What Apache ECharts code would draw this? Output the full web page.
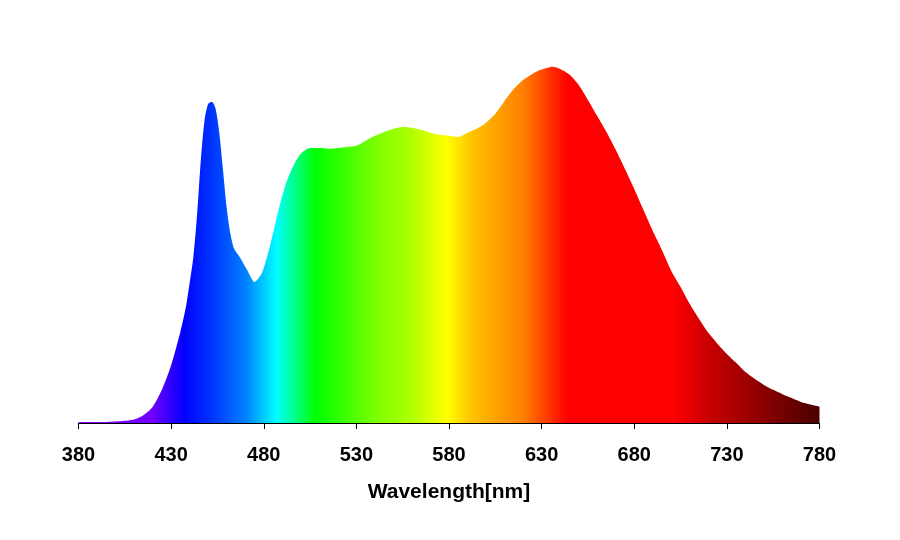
<!DOCTYPE html>
<html>
<head>
<meta charset="utf-8">
<script src="https://cdn.jsdelivr.net/npm/echarts@6/dist/echarts.min.js"></script>
<style>
  html, body { margin: 0; padding: 0; background: #fff; }
  #chart { width: 900px; height: 540px; }
</style>
</head>
<body>
<div id="chart"></div>
<script>
// wavelength (nm) and relative intensity
const wavelengths = [
  380, 385, 390, 395, 400, 405, 410, 415, 420, 425, 430, 435, 438, 440, 442, 444,
  446, 448, 450, 452, 454, 456, 458, 460, 462, 464, 467, 471, 475, 479, 483, 488,
  492, 496, 500, 505, 510, 515, 520, 525, 530, 535, 540, 545, 550, 555, 560, 565,
  570, 575, 580, 585, 590, 595, 600, 605, 610, 615, 620, 625, 630, 636, 640, 645,
  650, 655, 660, 665, 670, 675, 680, 685, 690, 695, 700, 705, 710, 715, 720, 725,
  730, 735, 740, 745, 750, 755, 760, 765, 770, 775, 780
]
const intensity = [
  0.003, 0.003, 0.003, 0.003, 0.004, 0.006, 0.010, 0.022, 0.045, 0.093, 0.162, 0.256, 0.326, 0.393, 0.466, 0.584,
  0.736, 0.848, 0.896, 0.902, 0.882, 0.815, 0.711, 0.604, 0.531, 0.489, 0.466, 0.430, 0.396, 0.421, 0.489, 0.598,
  0.672, 0.722, 0.756, 0.772, 0.772, 0.770, 0.772, 0.775, 0.778, 0.792, 0.806, 0.817, 0.826, 0.831, 0.829, 0.823,
  0.815, 0.809, 0.806, 0.803, 0.815, 0.826, 0.843, 0.868, 0.904, 0.938, 0.963, 0.980, 0.992, 1.000, 0.994, 0.978,
  0.949, 0.907, 0.862, 0.817, 0.767, 0.713, 0.657, 0.598, 0.539, 0.485, 0.427, 0.382, 0.334, 0.292, 0.253, 0.222,
  0.194, 0.169, 0.143, 0.124, 0.107, 0.093, 0.081, 0.070, 0.059, 0.052, 0.046
]
const xTicks = [380, 430, 480, 530, 580, 630, 680, 730, 780]

// spectrum colours by wavelength
const stopWavelengths = [380, 420, 437, 455, 470, 487, 508, 542, 560, 579, 593, 620, 644, 701, 720, 747, 780]
const stopColors = [
  '#8a00ff', '#7000ff', '#0000ff', '#0040ff', '#0080ff', '#00ffff', '#00ff00', '#80ff00', '#b0ff00',
  '#ffff00', '#ffc000', '#ff8000', '#ff0000', '#ff0000', '#c80000', '#900000', '#4a0000'
]

const xMin = xTicks[0]
const xMax = xTicks[xTicks.length - 1]
const colorStops = stopWavelengths.map((w, i) => ({
  offset: (w - xMin) / (xMax - xMin),
  color: stopColors[i]
}))

const chart = echarts.init(document.getElementById('chart'))

chart.setOption({
  animation: false,
  grid: { left: 78.5, right: 80.5, top: 24, bottom: 117 },
  xAxis: {
    type: 'value',
    min: xMin,
    max: xMax,
    interval: 50,
    name: 'Wavelength[nm]',
    nameLocation: 'middle',
    nameGap: 59,
    nameTextStyle: { fontFamily: 'Liberation Sans', fontWeight: 'bold', fontSize: 21, color: '#000' },
    axisLine: { lineStyle: { color: '#000', width: 1 } },
    axisTick: { show: true, length: 6, lineStyle: { color: '#000' } },
    axisLabel: { margin: 22, fontFamily: 'Liberation Sans', fontWeight: 'bold', fontSize: 20, color: '#000' },
    splitLine: { show: false }
  },
  yAxis: {
    type: 'value',
    min: 0,
    max: 1.12,
    show: false
  },
  series: [
    {
      type: 'line',
      data: wavelengths.map((w, i) => [w, intensity[i]]),
      showSymbol: false,
      smooth: 0.25,
      lineStyle: { width: 0 },
      areaStyle: {
        opacity: 1,
        color: new echarts.graphic.LinearGradient(0, 0, 1, 0, colorStops)
      }
    }
  ]
})
</script>
</body>
</html>
